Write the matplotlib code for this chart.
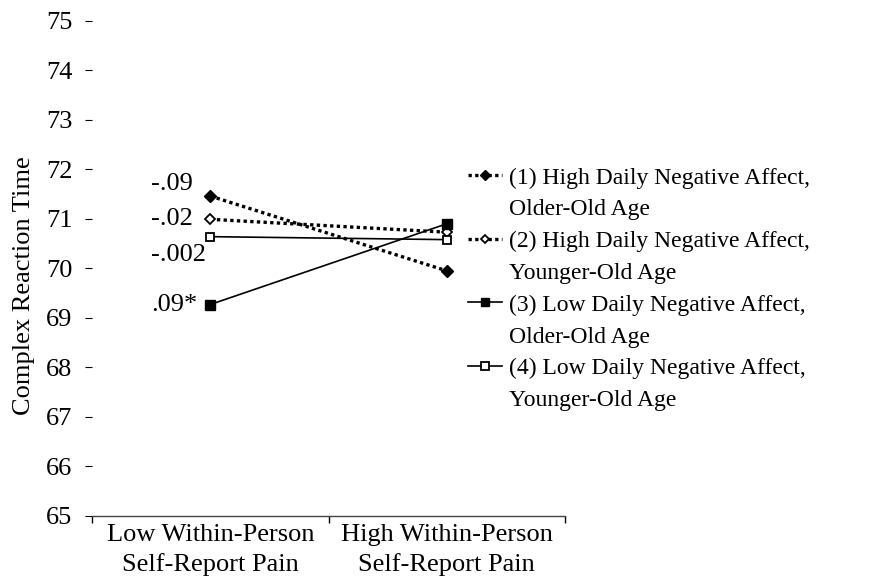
import matplotlib
matplotlib.use("Agg")
import matplotlib.pyplot as plt
from matplotlib.lines import Line2D

plt.rcParams["font.family"] = ["Liberation Serif", "DejaVu Serif"]
plt.rcParams["font.size"] = 19

# pain condition on x, predicted complex reaction time per group
categories = ["Low Within-Person\nSelf-Report Pain", "High Within-Person\nSelf-Report Pain"]
high_na_older = [71.46, 69.95]
high_na_younger = [70.99, 70.73]
low_na_older = [69.27, 70.90]
low_na_younger = [70.64, 70.58]

series_labels = [
    ("(1) High Daily Negative Affect,", "Older-Old Age"),
    ("(2) High Daily Negative Affect,", "Younger-Old Age"),
    ("(3) Low Daily Negative Affect,", "Older-Old Age"),
    ("(4) Low Daily Negative Affect,", "Younger-Old Age"),
]
slope_labels = ["-.09", "-.02", ".09*", "-.002"]

fig = plt.figure(figsize=(8.88, 5.76), dpi=100)
ax = fig.add_axes([92 / 888, 1 - 516 / 576, (565 - 92) / 888, (516 - 20.7) / 576])

x = range(len(categories))
dotted = (0, (1, 1))
l1, = ax.plot(x, high_na_older, color="black", lw=2.4, ls=dotted, dash_capstyle="butt",
              marker="D", ms=6.5, mfc="black", mec="black")
l2, = ax.plot(x, high_na_younger, color="black", lw=2.4, ls=dotted, dash_capstyle="butt",
              marker="D", ms=5, mfc="white", mec="black", mew=1.3)
l3, = ax.plot(x, low_na_older, color="black", lw=1.2,
              marker="s", ms=6.5, mfc="black", mec="black")
l4, = ax.plot(x, low_na_younger, color="black", lw=1.2,
              marker="s", ms=6, mfc="white", mec="black", mew=1.3)

# slope coefficients next to the low-pain points
offsets = {"-.09": 9, "-.02": 0.5, ".09*": 0, "-.002": -13.5}
for lab, vals in zip(slope_labels, [high_na_older, high_na_younger, low_na_older, low_na_younger]):
    ax.annotate(lab, xy=(0, vals[0]), xytext=(-42.5, offsets[lab]), textcoords="offset points",
                ha="left", va="center")

ax.set_xlim(-0.5, 1.5)
ax.set_ylim(65, 75)
ax.set_yticks(range(65, 76))
ax.set_xticks(list(x))
ax.set_xticklabels(categories, linespacing=1.37)
ax.set_xticks([-0.5, 0.5, 1.5], minor=True)
ax.tick_params(axis="x", which="major", length=0, pad=6)
ax.tick_params(axis="x", which="minor", length=5, width=1, direction="out")
ax.tick_params(axis="y", length=5, width=0.8, direction="out", pad=9)

for side in ["top", "right", "left"]:
    ax.spines[side].set_visible(False)
ax.spines["bottom"].set_linewidth(1.0)
ax.spines["bottom"].set_color("#444444")

fig.text(24 / 888, 1 - 286 / 576, "Complex Reaction Time", rotation=90,
         ha="center", va="center")

# legend: second line of each label as a blank-handle row
blank = Line2D([], [], color="none")
handles, labels = [], []
for h, (first, second) in zip([l1, l2, l3, l4], series_labels):
    handles += [h, blank]
    labels += [first, second]
fig.legend(handles, labels, loc="upper left", bbox_to_anchor=(468 / 888, 1 - 167 / 576),
           frameon=False, handlelength=1.45, handletextpad=0.3, labelspacing=0.435,
           borderaxespad=0, borderpad=0, fontsize=17, markerscale=0.85)

fig.savefig("out.png", dpi=100)
